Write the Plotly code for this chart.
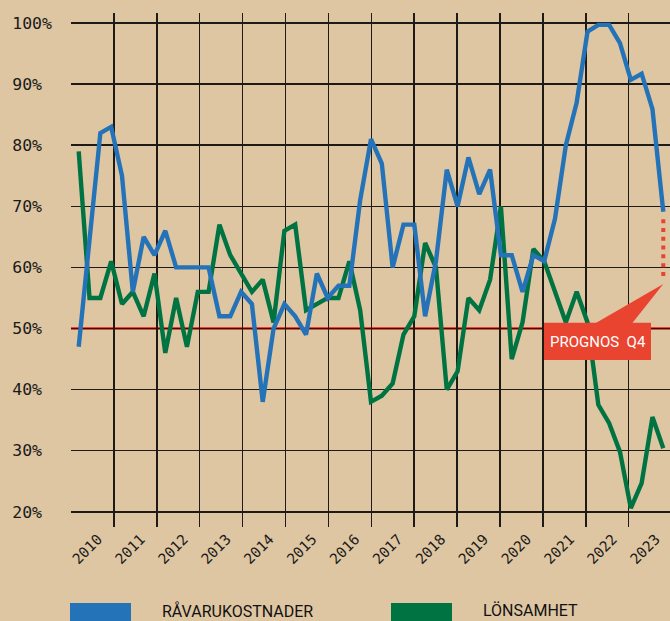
import plotly.graph_objects as go

# ---------------- data (quarterly, 2010 Q1 – 2023 Q3) ----------------
years = ["2010", "2011", "2012", "2013", "2014", "2015", "2016",
         "2017", "2018", "2019", "2020", "2021", "2022", "2023"]

ravarukostnader = [47, 65, 82, 83, 75, 56, 65, 62, 66, 60, 60, 60, 60, 52,
                   52, 56, 54, 38, 50, 54, 52, 49, 59, 55, 57, 57, 71, 81,
                   77, 60, 67, 67, 52, 61, 76, 70, 78, 72, 76, 62, 62, 56,
                   62, 61, 68, 80, 87, 98.6, 99.7, 99.7, 96.7, 90.7, 91.7,
                   85.9, 69.1]

lonsamhet = [79, 55, 55, 61, 54, 56, 52, 59, 46, 55, 47, 56, 56, 67,
             62, 59, 56, 58, 51, 66, 67, 53, 54, 55, 55, 61, 53, 38,
             39, 41, 49, 52, 64, 60, 40, 43, 55, 53, 58, 70, 45, 51,
             63, 61, 56, 51, 56, 51, 37.5, 34.5, 29.8, 20.6, 24.7, 35.5,
             30.4]

prognos_q4 = 58          # forecast for raw-material costs, Q4
y_ticks = [20, 30, 40, 50, 60, 70, 80, 90, 100]

# ---------------- styling ----------------
BG = "#DFC6A2"
BLUE = "#2473B8"
GREEN = "#007342"
RED = "#E8442F"
GRID = "#1e1a16"
MONO = "DejaVu Sans Mono, Liberation Mono, monospace"
SANS = "Roboto, Liberation Sans, sans-serif"

n = len(ravarukostnader)
xs = list(range(n))

# axis geometry (layout only)
X0, X1 = -0.711, 54.62
Y0, Y1 = 17.51, 101.64
year_step = 3.963
grid_x = [X0 + k * year_step for k in range(len(years))]


def xd(px):
    return X0 + (px - 71) / 10.826


def yd(py):
    return Y1 - (py - 13) * (Y1 - Y0) / 514


fig = go.Figure()

fig.add_trace(go.Scatter(x=xs, y=lonsamhet, mode="lines",
                         line=dict(color=GREEN, width=4.4), name="LÖNSAMHET",
                         showlegend=False, hoverinfo="skip"))
fig.add_trace(go.Scatter(x=xs, y=ravarukostnader, mode="lines",
                         line=dict(color=BLUE, width=4.4), name="RÅVARUKOSTNADER",
                         showlegend=False, hoverinfo="skip"))
# forecast (dotted)
fig.add_trace(go.Scatter(x=[xs[-1], xs[-1]], y=[ravarukostnader[-1] - 1.2, prognos_q4],
                         mode="lines",
                         line=dict(color=RED, width=4, dash="4px,4.8px"),
                         showlegend=False, hoverinfo="skip"))

shapes = []
# 50% reference line
shapes.append(dict(type="line", xref="paper", yref="y", x0=0, x1=1, y0=50, y1=50,
                   line=dict(color=RED, width=3), layer="between"))
# callout box + pointer
shapes.append(dict(type="rect", xref="x", yref="y",
                   x0=xd(544), x1=xd(651), y0=yd(360), y1=yd(322.7),
                   fillcolor=RED, line=dict(width=0), layer="above"))
shapes.append(dict(type="path", xref="x", yref="y",
                   path=f"M {xd(595)},{yd(323.5)} L {xd(632)},{yd(323.5)} L {xs[-1]},{yd(284)} Z",
                   fillcolor=RED, line=dict(width=0), layer="above"))


def ppx(px):
    return (px - 71) / 599


def ppy(py):
    return (527 - py) / 514


# legend swatches
shapes.append(dict(type="rect", xref="paper", yref="paper",
                   x0=ppx(70), x1=ppx(131), y0=ppy(640), y1=ppy(603),
                   fillcolor=BLUE, line=dict(width=0)))
shapes.append(dict(type="rect", xref="paper", yref="paper",
                   x0=ppx(391), x1=ppx(452), y0=ppy(640), y1=ppy(603),
                   fillcolor=GREEN, line=dict(width=0)))

annotations = [
    dict(text="PROGNOS\u00a0\u00a0Q4", xref="x", yref="y", x=xd(598), y=yd(342),
         showarrow=False, font=dict(family=SANS, size=15, color="white"),
         xanchor="center", yanchor="middle"),
    dict(text="RÅVARUKOSTNADER", xref="paper", yref="paper", x=ppx(160), y=ppy(610.5),
         showarrow=False, font=dict(family=SANS, size=16, color="#111111"),
         xanchor="left", yanchor="middle"),
    dict(text="LÖNSAMHET", xref="paper", yref="paper", x=ppx(481), y=ppy(610.5),
         showarrow=False, font=dict(family=SANS, size=16, color="#111111"),
         xanchor="left", yanchor="middle"),
]

fig.update_layout(
    width=670, height=621,
    margin=dict(l=71, r=0, t=13, b=94, pad=0),
    paper_bgcolor=BG, plot_bgcolor=BG,
    showlegend=False,
    shapes=shapes,
    annotations=annotations,
    xaxis=dict(range=[X0, X1], tickmode="array", tickvals=grid_x, ticktext=years,
               tickangle=-45, ticks="", showgrid=True, gridcolor=GRID, gridwidth=1.5,
               zeroline=False, showline=False, fixedrange=True,
               tickfont=dict(family=MONO, size=14.5, color="#1a1a1a"),
               ticklabelshift=27, ticklabelstandoff=0),
    yaxis=dict(range=[Y0, Y1], tickmode="array", tickvals=y_ticks,
               ticktext=[f"{v}%" if v >= 100 else f"{v}%\u00a0" for v in y_ticks],
               ticks="", showgrid=True, gridcolor=GRID, gridwidth=1.5,
               zeroline=False, showline=False, fixedrange=True,
               tickfont=dict(family=MONO, size=16.5, color="#1a1a1a"),
               ticklabelstandoff=18),
)

fig.write_html(
    "out.html",
    config={"displayModeBar": False, "staticPlot": True},
    post_script="document.body.style.margin='0';document.body.style.overflow='hidden';",
)
